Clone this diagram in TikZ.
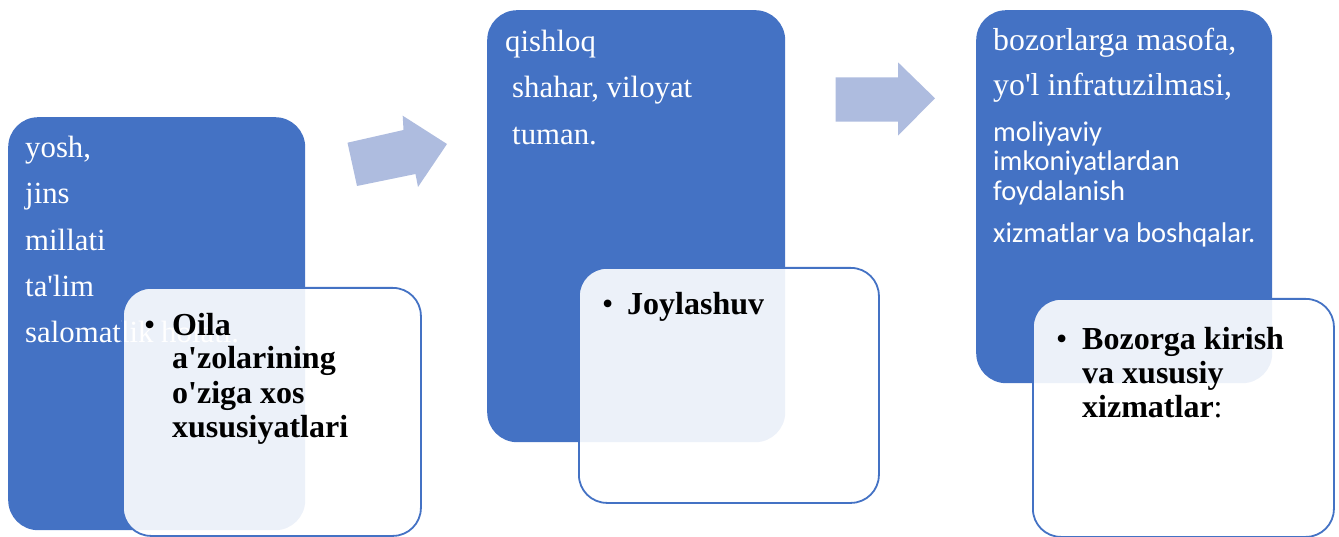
\documentclass[tikz,border=0pt]{standalone}
\usepackage{fontspec}
\setmainfont{Liberation Serif}
\newfontfamily\calfont{Carlito}
\definecolor{myblue}{HTML}{4472C4}
\definecolor{arrowblue}{HTML}{AEBCDF}
\newcommand{\sq}{\textquotesingle}
\begin{document}
\begin{tikzpicture}[x=1pt,y=-1pt,
  bluebox/.style={fill=myblue, draw=none, rounded corners=30pt, anchor=north west, inner sep=0},
  card/.style={fill=white, fill opacity=0.9, draw=myblue, line width=1.8pt, rounded corners=28pt, anchor=north west, inner sep=0},
  wtxt/.style={text=white, font=\fontsize{30.8}{36}\selectfont, anchor=base west, inner sep=0},
  wsans/.style={text=white, font=\calfont\fontsize{28.5}{34}\selectfont, anchor=base west, inner sep=0},
  btxt/.style={text=black, font=\fontsize{32}{36}\selectfont\bfseries, anchor=base west, inner sep=0},
  bullet/.style={text=black, font=\fontsize{32}{36}\selectfont, anchor=base west, inner sep=0},
  blockarrow/.style={fill=arrowblue, draw=none}]
\useasboundingbox (0,0) rectangle (1339,537);

% ---- group 1
\node[bluebox, minimum width=297pt, minimum height=413pt] (b1) at (8,117) {};
\node[wtxt] (t1a) at (25,158) {yosh,};
\node[wtxt] (t1b) at (25,204) {jins};
\node[wtxt] (t1c) at (25,251) {millati};
\node[wtxt] (t1d) at (25,297) {ta\sq lim};
\node[wtxt] (t1e) at (25,343) {salomatlik holati.};
\node[card, minimum width=298pt, minimum height=248pt] (c1) at (122,287) {};
\node[bullet] (u1) at (144,336) {\textbullet};
\node[btxt] (k1a) at (172,336) {Oila};
\node[btxt] (k1b) at (172,369) {a\sq zolarining};
\node[btxt] (k1c) at (172,403) {o\sq ziga xos};
\node[btxt] (k1d) at (172,437) {xususiyatlari};

% ---- arrow 1
\path[blockarrow] (347.5,142.7) -- (403.5,130) -- (402.7,115.7) -- (447,144)
  -- (418,187) -- (415.5,174) -- (357,186) -- cycle;

% ---- group 2
\node[bluebox, minimum width=298pt, minimum height=432pt] (b2) at (487,10) {};
\node[wtxt] (t2a) at (505,52) {qishloq};
\node[wtxt] (t2b) at (512,98) {shahar, viloyat};
\node[wtxt] (t2c) at (512,145) {tuman.};
\node[card, minimum width=300pt, minimum height=235pt] (c2) at (578,267) {};
\node[bullet] (u2) at (602,315) {\textbullet};
\node[btxt] (k2a) at (627,315) {Joylashuv};

% ---- arrow 2
\path[blockarrow] (835.6,77.3) -- (898,77.3) -- (898,62.3) -- (935,98.3)
  -- (898,135.7) -- (898,121.7) -- (835.6,121.7) -- cycle;

% ---- group 3
\node[bluebox, minimum width=296pt, minimum height=373pt] (b3) at (976,10) {};
\node[wtxt, font=\fontsize{31.8}{36}\selectfont] (t3a) at (993,51) {bozorlarga masofa,};
\node[wtxt, font=\fontsize{31.8}{36}\selectfont] (t3b) at (993,96) {yo\sq l infratuzilmasi,};
\node[wsans] (t3c) at (993,142) {moliyaviy};
\node[wsans] (t3d) at (993,171) {imkoniyatlardan};
\node[wsans] (t3e) at (993,201) {foydalanish};
\node[wsans] (t3f) at (993,243) {xizmatlar\hspace{-2pt} va boshqalar.};
\node[card, minimum width=301pt, minimum height=238pt] (c3) at (1032,298) {};
\node[bullet] (u3) at (1056,350) {\textbullet};
\node[btxt] (k3a) at (1082,350) {Bozorga kirish};
\node[btxt] (k3b) at (1082,384) {va xususiy};
\node[btxt] (k3c) at (1082,417) {xizmatlar\textmd{:}};
\end{tikzpicture}
\end{document}
